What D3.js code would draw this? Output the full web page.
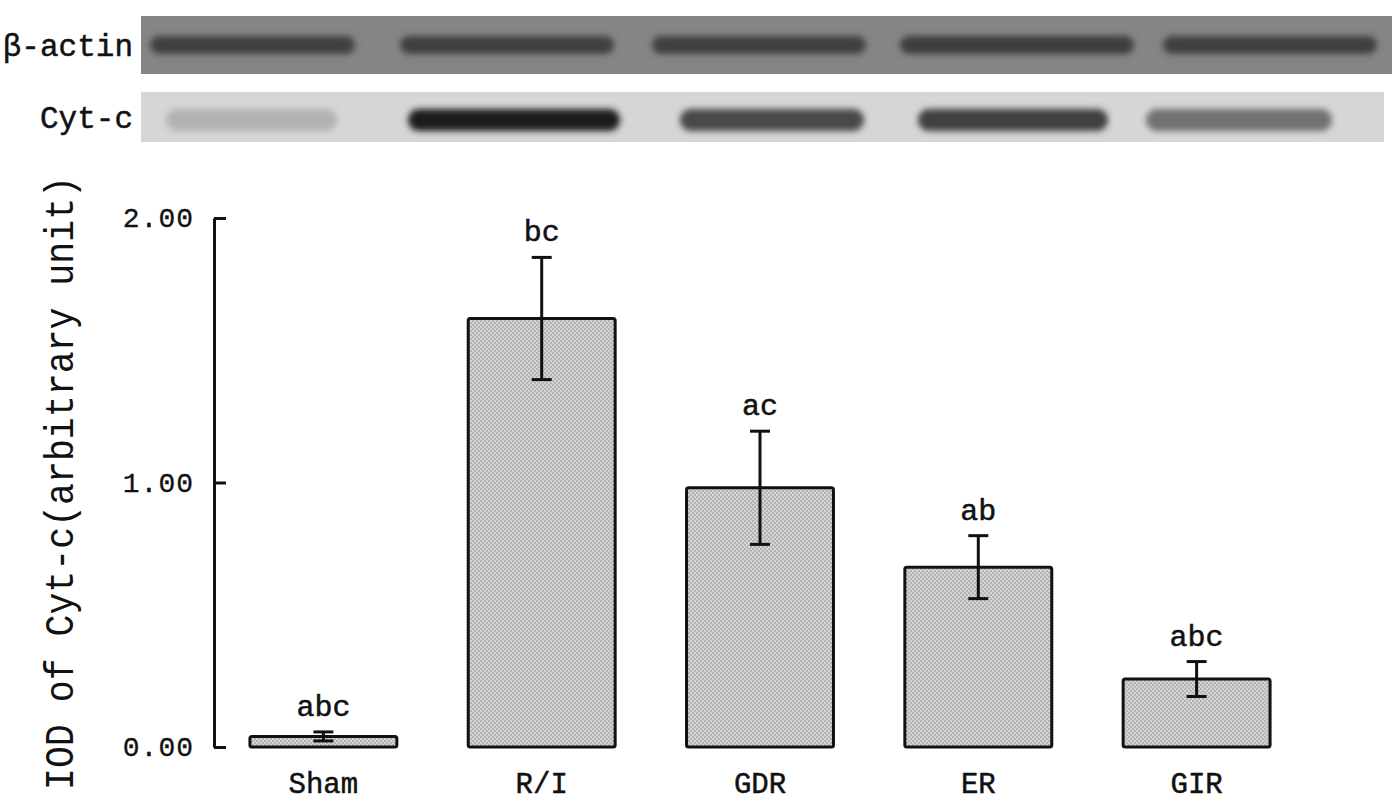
<!DOCTYPE html>
<html>
<head>
<meta charset="utf-8">
<script src="https://cdn.jsdelivr.net/npm/d3@7"></script>
<style>
html,body{margin:0;padding:0;background:#fff;}
svg{display:block;}
</style>
</head>
<body>
<svg id="chart" width="1400" height="804"></svg>
<script>
// ---- data ----
const categories = ["Sham", "R/I", "GDR", "ER", "GIR"];
const means = [0.04, 1.62, 0.98, 0.68, 0.257];
const errors = [0.017, 0.231, 0.214, 0.119, 0.066];
const sigLabels = ["abc", "bc", "ac", "ab", "abc"];
const yTicks = [0, 1, 2];
const yTickLabels = ["0.00", "1.00", "2.00"];
const yTitle = "IOD of Cyt-c(arbitrary unit)";
const blotNames = ["β-actin", "Cyt-c"];
// western blot bands: lane extents (px in the blot image) and darkness 0..1
const actinLaneStart = [150, 400, 652, 900, 1163];
const actinLaneEnd = [355, 614, 866, 1134, 1377];
const actinDensity = [0.6, 0.62, 0.62, 0.64, 0.62];
const cytcLaneStart = [166, 408, 680, 918, 1146];
const cytcLaneEnd = [337, 620, 864, 1108, 1332];
const cytcDensity = [0.18, 0.95, 0.72, 0.78, 0.52];

const svg = d3.select("#chart");
const FONT = "'Liberation Mono', 'DejaVu Sans Mono', monospace";

// ---- defs ----
const defs = svg.append("defs");
const pat = defs.append("pattern").attr("id", "stipple")
  .attr("patternUnits", "userSpaceOnUse").attr("width", 4).attr("height", 4);
pat.append("rect").attr("width", 4).attr("height", 4).attr("fill", "#d4d4d4");
pat.append("rect").attr("width", 2).attr("height", 2).attr("fill", "#b4b4b4");
pat.append("rect").attr("x", 2).attr("y", 2).attr("width", 2).attr("height", 2).attr("fill", "#b4b4b4");
const blur = defs.append("filter").attr("id", "blur").attr("x", "-10%").attr("y", "-60%").attr("width", "120%").attr("height", "220%");
blur.append("feGaussianBlur").attr("stdDeviation", 3);

// ---- blots ----
const blotG = svg.append("g");
const strips = [
  {y0: 16, y1: 74, x0: 141, x1: 1392, bg: "#858585", bandY: 45, bandH: 18,
   s: actinLaneStart, e: actinLaneEnd, d: actinDensity, base: 133},
  {y0: 92, y1: 142, x0: 141, x1: 1384, bg: "#d6d6d6", bandY: 120, bandH: 22,
   s: cytcLaneStart, e: cytcLaneEnd, d: cytcDensity, base: 214}
];
strips.forEach((st, i) => {
  blotG.append("rect").attr("x", st.x0).attr("y", st.y0)
    .attr("width", st.x1 - st.x0).attr("height", st.y1 - st.y0).attr("fill", st.bg);
  const shade = d3.scaleLinear().domain([0, 1]).range([st.base, 20]);
  blotG.selectAll(null).data(st.d).enter().append("rect")
    .attr("x", (d, j) => st.s[j]).attr("width", (d, j) => st.e[j] - st.s[j])
    .attr("y", st.bandY - st.bandH / 2).attr("height", st.bandH)
    .attr("rx", st.bandH / 2).attr("ry", st.bandH / 2)
    .attr("fill", d => { const v = Math.round(shade(d)); return `rgb(${v},${v},${v})`; })
    .attr("filter", "url(#blur)");
  blotG.append("text").attr("x", 133).attr("y", (st.y0 + st.y1) / 2)
    .attr("dy", "0.35em").attr("text-anchor", "end")
    .attr("font-family", FONT).attr("font-size", 31).attr("fill", "#111")
    .attr("stroke", "#111").attr("stroke-width", 0.5)
    .text(blotNames[i]);
});

// ---- scales ----
const x = d3.scaleBand().domain(categories).range([215, 1305])
  .paddingInner(0.327).paddingOuter(0.16);
const y = d3.scaleLinear().domain([0, 2]).range([747, 218]);

// ---- axis ----
const yAxis = d3.axisLeft(y).tickValues(yTicks)
  .tickFormat((d, i) => yTickLabels[i]).tickSizeInner(-12).tickSizeOuter(0).tickPadding(20);
const ag = svg.append("g").attr("transform", "translate(214,0)").call(yAxis);
ag.select(".domain").attr("stroke", "#111").attr("stroke-width", 3);
ag.selectAll(".tick line").attr("stroke", "#111").attr("stroke-width", 3);
ag.selectAll(".tick text").attr("font-family", FONT).attr("font-size", 28)
  .attr("fill", "#111").attr("letter-spacing", 1)
  .attr("stroke", "#111").attr("stroke-width", 0.3);

// ---- bars ----
const bars = svg.append("g");
bars.selectAll("rect").data(categories).enter().append("rect")
  .attr("x", d => x(d)).attr("width", x.bandwidth())
  .attr("y", (d, i) => y(means[i])).attr("height", (d, i) => y(0) - y(means[i]))
  .attr("fill", "url(#stipple)").attr("stroke", "#111").attr("stroke-width", 3)
  .attr("rx", 2);

// ---- error bars ----
const eb = svg.append("g").attr("stroke", "#111").attr("stroke-width", 3);
categories.forEach((c, i) => {
  const cx = x(c) + x.bandwidth() / 2;
  const hi = y(means[i] + errors[i]), lo = y(means[i] - errors[i]);
  eb.append("line").attr("x1", cx).attr("x2", cx).attr("y1", hi).attr("y2", lo);
  eb.append("line").attr("x1", cx - 10).attr("x2", cx + 10).attr("y1", hi).attr("y2", hi);
  eb.append("line").attr("x1", cx - 10).attr("x2", cx + 10).attr("y1", lo).attr("y2", lo);
});

// ---- significance letters ----
svg.append("g").selectAll("text").data(categories).enter().append("text")
  .attr("x", d => x(d) + x.bandwidth() / 2)
  .attr("y", (d, i) => y(means[i] + errors[i]) - 16)
  .attr("text-anchor", "middle").attr("font-family", FONT).attr("font-size", 30)
  .attr("fill", "#111").attr("stroke", "#111").attr("stroke-width", 0.5)
  .text((d, i) => sigLabels[i]);

// ---- category labels ----
svg.append("g").selectAll("text").data(categories).enter().append("text")
  .attr("x", d => x(d) + x.bandwidth() / 2).attr("y", 793)
  .attr("text-anchor", "middle").attr("font-family", FONT).attr("font-size", 29)
  .attr("fill", "#111").attr("stroke", "#111").attr("stroke-width", 0.5)
  .text(d => d);

// ---- y title ----
svg.append("text").attr("transform", "translate(73,483) rotate(-90)")
  .attr("text-anchor", "middle").attr("font-family", FONT).attr("font-size", 40)
  .attr("textLength", 614).attr("lengthAdjust", "spacingAndGlyphs")
  .attr("fill", "#111").text(yTitle);
</script>
</body>
</html>
